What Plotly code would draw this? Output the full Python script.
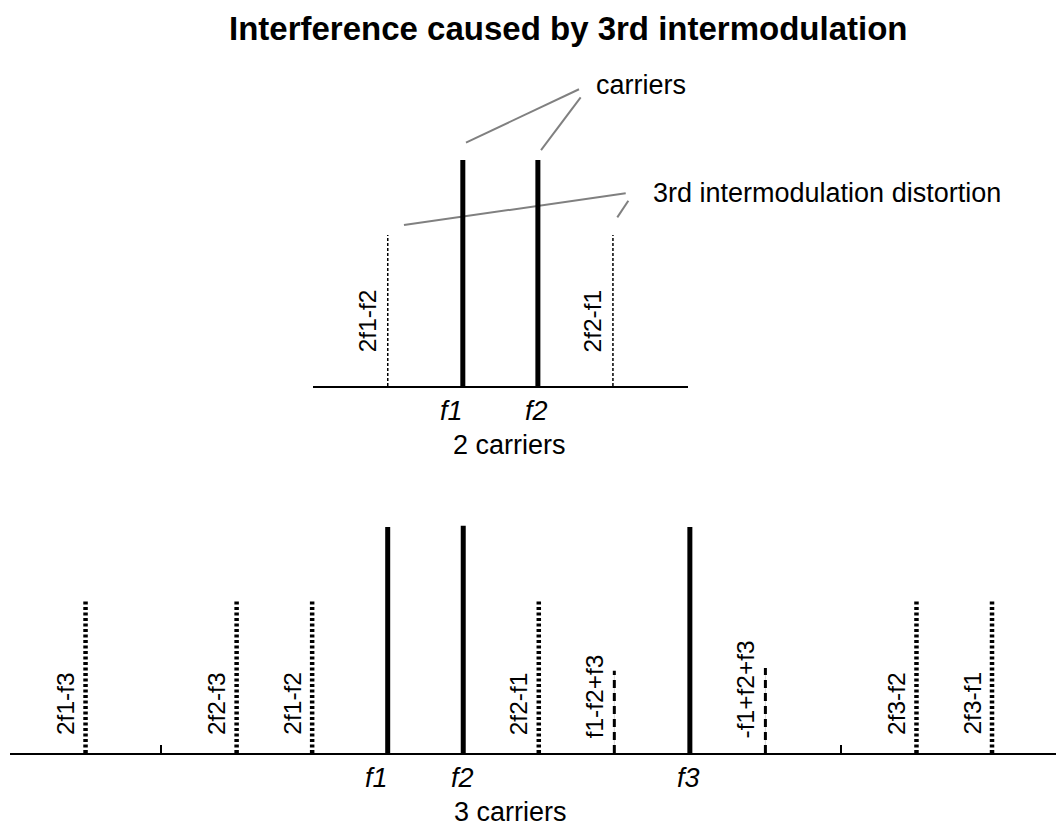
import plotly.graph_objects as go

# ---------------- data ----------------
# upper panel: two carriers and their 3rd-order products
top_carrier_names = ["f1", "f2"]
top_carrier_freq = [10, 11]
top_carrier_level = [1.0, 1.0]
top_imd_names = ["2f1-f2", "2f2-f1"]
top_imd_freq = [9, 12]
top_imd_level = [0.668, 0.668]

# lower panel: three carriers and their 3rd-order products
bot_carrier_names = ["f1", "f2", "f3"]
bot_carrier_freq = [10, 11, 14]
bot_carrier_level = [1.0, 1.006, 1.0]
bot_imd_names = ["2f1-f3", "2f2-f3", "2f1-f2", "2f2-f1", "2f3-f2", "2f3-f1"]
bot_imd_freq = [6, 8, 9, 12, 17, 18]
bot_imd_level = [0.681, 0.681, 0.681, 0.681, 0.681, 0.681]
bot_mix_names = ["f1-f2+f3", "-f1+f2+f3"]
bot_mix_freq = [13, 15]
bot_mix_level = [0.364, 0.376]
bot_tick_freq = [7, 16]

# callout leader lines (upper panel data coords)
carrier_callouts = [[(10.042, 1.077), (11.548, 1.313)], [(11.042, 1.044), (11.570, 1.277)]]
imd_callouts = [[(9.216, 0.712), (12.170, 0.853)], [(12.058, 0.746), (12.205, 0.820)]]

# ---------------- layout constants ----------------
W, H = 1056, 827
FONT = "Liberation Sans, Arial, Helvetica, sans-serif"


def px_x(p):
    return p / W


def px_y(p):
    return 1 - p / H


YUNIT = 226.0  # px per level unit
YMAX = 1.4
top_base, bot_base = 386.0, 753.0


def stems(freqs, levels):
    xs, ys = [], []
    for f, l in zip(freqs, levels):
        xs += [f, f, None]
        ys += [0, l, None]
    return xs, ys


def segs(lines):
    xs, ys = [], []
    for (a, b) in lines:
        xs += [a[0], b[0], None]
        ys += [a[1], b[1], None]
    return xs, ys


fig = go.Figure()

# upper panel
x, y = segs(carrier_callouts + imd_callouts)
fig.add_trace(go.Scatter(x=x, y=y, mode="lines", line=dict(color="#808080", width=2),
                         xaxis="x", yaxis="y", hoverinfo="skip", showlegend=False, cliponaxis=False))
x, y = stems(top_imd_freq, top_imd_level)
fig.add_trace(go.Scatter(x=x, y=y, mode="lines", line=dict(color="black", width=1.5, dash="3px,2px"),
                         xaxis="x", yaxis="y", showlegend=False))
x, y = stems(top_carrier_freq, top_carrier_level)
fig.add_trace(go.Scatter(x=x, y=y, mode="lines", line=dict(color="black", width=5),
                         xaxis="x", yaxis="y", showlegend=False))

# lower panel
x, y = stems(bot_mix_freq, bot_mix_level)
fig.add_trace(go.Scatter(x=x, y=y, mode="lines", line=dict(color="#d8d8d8", width=1),
                         xaxis="x2", yaxis="y2", showlegend=False, hoverinfo="skip"))
fig.add_trace(go.Scatter(x=x, y=y, mode="lines", line=dict(color="black", width=3, dash="8px,5px"),
                         xaxis="x2", yaxis="y2", showlegend=False))
x, y = stems(bot_imd_freq, bot_imd_level)
fig.add_trace(go.Scatter(x=x, y=y, mode="lines", line=dict(color="black", width=4.5, dash="3px,2.5px"),
                         xaxis="x2", yaxis="y2", showlegend=False))
x, y = stems(bot_carrier_freq, bot_carrier_level)
fig.add_trace(go.Scatter(x=x, y=y, mode="lines", line=dict(color="black", width=5),
                         xaxis="x2", yaxis="y2", showlegend=False))

ann = []
# rotated product labels
for names, freqs, ax, ay, ys in [
    (top_imd_names, top_imd_freq, "x", "y", 32),
    (bot_imd_names, bot_imd_freq, "x2", "y2", 16),
    (bot_mix_names, bot_mix_freq, "x2", "y2", 13),
]:
    for n, f in zip(names, freqs):
        ann.append(dict(x=f, y=0, xref=ax, yref=ay, text=n, showarrow=False, textangle=-90,
                        xanchor="center", yanchor="bottom", xshift=-20, yshift=ys,
                        font=dict(family=FONT, size=24.5, color="black")))

# carrier frequency labels
for names, freqs, ax, ay in [
    (top_carrier_names, top_carrier_freq, "x", "y"),
    (bot_carrier_names, bot_carrier_freq, "x2", "y2"),
]:
    for n, f in zip(names, freqs):
        ann.append(dict(x=f, y=0, xref=ax, yref=ay, text=n, showarrow=False,
                        xanchor="center", yanchor="middle",
                        xshift=(-11 if n == "f1" else -1), yshift=-25,
                        font=dict(family=FONT, size=27, color="black", style="italic")))

ann += [
    dict(x=px_x(568.5), y=px_y(28), xref="paper", yref="paper", showarrow=False,
         text="<b>Interference caused by 3rd intermodulation</b>",
         xanchor="center", yanchor="middle", font=dict(family=FONT, size=33, color="black")),
    dict(x=px_x(594), y=px_y(85), xref="paper", yref="paper", showarrow=False, text="carriers",
         xanchor="left", yanchor="middle", font=dict(family=FONT, size=27, color="black")),
    dict(x=px_x(651), y=px_y(193), xref="paper", yref="paper", showarrow=False,
         text="3rd intermodulation distortion",
         xanchor="left", yanchor="middle", font=dict(family=FONT, size=27, color="black")),
    dict(x=px_x(509), y=px_y(445), xref="paper", yref="paper", showarrow=False, text="2 carriers",
         xanchor="center", yanchor="middle", font=dict(family=FONT, size=27, color="black")),
    dict(x=px_x(510), y=px_y(812), xref="paper", yref="paper", showarrow=False, text="3 carriers",
         xanchor="center", yanchor="middle", font=dict(family=FONT, size=27, color="black")),
]

axis_common = dict(showgrid=False, zeroline=False, showticklabels=False)

fig.update_layout(
    width=W, height=H, autosize=False,
    margin=dict(l=0, r=0, t=0, b=0, pad=0),
    paper_bgcolor="white", plot_bgcolor="white",
    showlegend=False,
    xaxis=dict(domain=[px_x(312.7), px_x(688)], range=[8, 13], anchor="y",
               showline=True, linecolor="black", linewidth=2, ticks="", **axis_common),
    yaxis=dict(domain=[px_y(top_base), px_y(top_base - YMAX * YUNIT)], range=[0, YMAX], anchor="x",
               showline=False, ticks="", **axis_common),
    xaxis2=dict(domain=[px_x(10), 1.0], range=[5, 5 + 1046 / 75.54], anchor="y2",
                showline=True, linecolor="black", linewidth=2,
                tickmode="array", tickvals=bot_tick_freq, ticks="inside", ticklen=8,
                tickwidth=2, tickcolor="black", **axis_common),
    yaxis2=dict(domain=[px_y(bot_base), px_y(bot_base - YMAX * YUNIT)], range=[0, YMAX], anchor="x2",
                showline=False, ticks="", **axis_common),
    annotations=ann,
)

fig.write_html(
    "out.html",
    config={"displayModeBar": False},
    post_script="document.body.style.margin='0px';document.body.style.overflow='hidden';",
)
